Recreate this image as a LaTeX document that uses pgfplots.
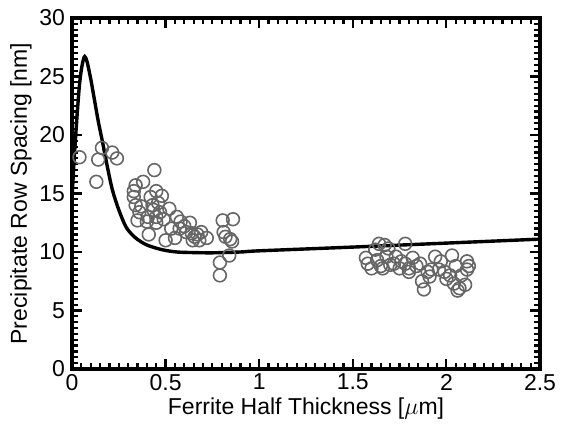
\documentclass[border=0pt]{standalone}
\usepackage{fontspec}
\setmainfont{Liberation Sans}
\usepackage{pgfplots}
\pgfplotsset{compat=1.18}
\begin{document}
\begin{tikzpicture}
\begin{axis}[
  scale only axis,
  width=234pt, height=175.5pt,
  xmin=0, xmax=2.5, ymin=0, ymax=30,
  xtick={0,0.5,...,2.5}, ytick={0,5,...,30},
  xticklabels={0,0.5,1,1.5,2,2.5},
  minor x tick num=9, minor y tick num=9,
  tick align=inside, tick pos=both,
  major tick length=5pt, minor tick length=2.8pt,
  every tick/.style={line width=1.1pt, black},
  axis line style={line width=1.6pt},
  /pgf/number format/assume math mode=true,
  tick label style={font=\fontsize{11.5}{13}\selectfont},
  xticklabel style={yshift=1pt},
  xlabel={Ferrite Half Thickness [$\mu$m]},
  ylabel={Precipitate Row Spacing [nm]},
  label style={font=\fontsize{11.5}{13}\selectfont},
  xlabel style={yshift=3pt},
  ylabel style={yshift=-3pt},
  clip=true,
]
\addplot[only marks, mark=o, mark size=3.2pt, draw=black!60, line width=0.8pt] coordinates {
(0.04,18.1)(0.13,16.0)(0.14,17.9)(0.16,18.9)(0.215,18.5)(0.24,18.0)(0.44,17.0)
(0.34,15.7)(0.38,16.0)(0.33,15.2)(0.33,14.7)(0.34,14.0)(0.37,13.9)(0.36,13.4)
(0.35,12.7)(0.40,12.6)(0.41,11.5)(0.42,14.7)(0.45,15.2)(0.48,14.8)(0.43,14.0)
(0.46,14.2)(0.435,13.6)(0.47,13.4)(0.45,13.0)(0.49,12.8)(0.405,13.0)(0.52,13.7)
(0.45,12.5)(0.53,12.0)(0.56,13.0)(0.58,12.6)(0.575,12.0)(0.60,12.2)(0.63,12.5)
(0.61,11.7)(0.64,11.6)(0.655,11.3)(0.67,11.5)(0.69,11.7)(0.72,11.2)(0.68,11.0)
(0.645,11.0)(0.55,11.2)(0.50,11.0)
(0.805,12.7)(0.86,12.8)(0.81,11.7)(0.82,11.3)(0.845,11.1)(0.855,10.9)(0.84,9.7)
(0.79,9.1)(0.79,8.0)
(1.57,9.5)(1.58,9.0)(1.60,8.6)(1.62,10.2)(1.63,9.3)(1.64,10.7)(1.65,8.8)
(1.67,10.6)(1.68,9.6)(1.69,10.3)(1.70,8.9)(1.66,8.6)(1.72,9.0)(1.73,9.6)
(1.75,8.6)(1.76,9.2)(1.78,10.7)(1.78,9.0)(1.80,8.6)(1.80,8.3)(1.82,9.5)
(1.84,8.8)(1.86,9.0)(1.87,7.5)(1.88,6.8)(1.90,8.3)(1.91,7.9)(1.92,8.5)
(1.94,9.6)(1.96,8.5)(1.97,9.2)(1.99,8.3)(2.00,7.7)(2.02,8.0)(2.03,9.7)
(2.04,7.3)(2.05,8.8)(2.06,6.7)(2.07,6.9)(2.08,8.0)(2.10,7.2)(2.11,9.2)
(2.11,8.5)(2.12,8.8)
};
\addplot[black, line width=1.7pt, smooth, tension=0.5] coordinates {
(0.0,14.5)(0.01,17.5)(0.02,20.0)(0.03,22.3)(0.04,24.3)(0.05,25.6)(0.06,26.4)
(0.068,26.7)(0.08,26.3)(0.10,24.8)(0.12,23.0)(0.14,21.2)(0.163,19.4)(0.19,17.2)
(0.216,15.3)(0.25,13.6)(0.29,12.1)(0.34,11.2)(0.40,10.6)(0.48,10.2)(0.56,10.0)
(0.65,9.95)(0.75,9.93)(0.9,10.0)(1.0,10.1)(1.5,10.42)(2.0,10.76)(2.5,11.1)
};
\end{axis}
\pgfresetboundingbox
\path ([shift={(-36pt,-31.5pt)}]current axis.south west) rectangle ([shift={(11.5pt,9pt)}]current axis.north east);
\end{tikzpicture}
\end{document}
